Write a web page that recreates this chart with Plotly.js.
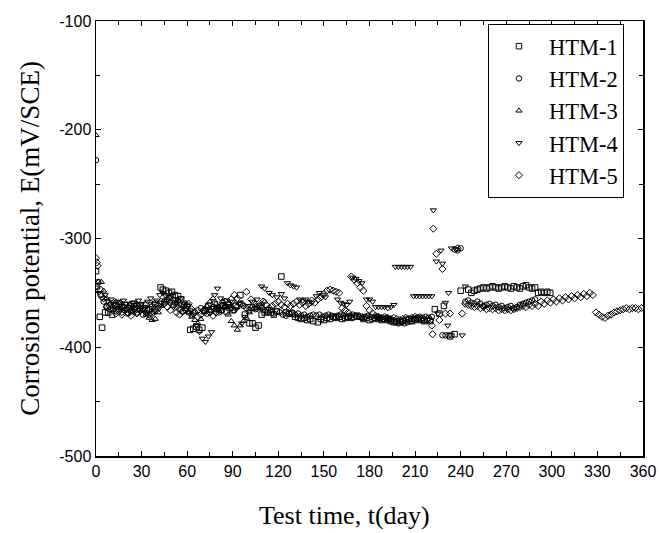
<!DOCTYPE html>
<html><head><meta charset="utf-8">
<script src="https://cdn.plot.ly/plotly-3.0.1.min.js"></script>
<style>html,body{margin:0;padding:0;background:#fff}#chart{width:660px;height:533px}</style>
</head><body><div id="chart"></div>
<script>
// HTM-1 (squares)
const htm1Day = [0,0.7,2.5,4,6,8,10.5,13,15,17,19,21,23,25,27,29,31,33,35,37,39,42.5,44,46,48,50,52,54,56,58,60,62,64,66,68,70,72,74,76,78,80,82,84,86,88,90,92,95,98,101,103,105,107,109,111,113,115,117,119,122,125,127,129,131,133,135,137,139,141,143,146,148,150,152,154,156,158,160,162,164,166,168,170,172,174,176,178,180,182,184,186,188,190,192,194,196,198,200,202,204,206,208,210,212,214,216,218,220,223,226,229,233,236,240,245,247,249,251,253,255,257,259,261,263,265,267,269,271,273,275,277,279,281,283,285,287,289,291,293,295,297,299];
const htm1E = [-330,-344,-372,-382,-368,-368,-370,-362,-360,-363,-361,-364,-362,-360,-365,-362,-364,-361,-365,-363,-360,-345,-347,-348,-350,-349,-352,-353,-356,-360,-362,-384,-383,-381,-384,-382,-366,-362,-365,-360,-364,-366,-362,-367,-364,-366,-362,-352,-370,-378,-378,-382,-380,-370,-368,-366,-368,-370,-367,-335,-368,-369,-369,-372,-373,-374,-373,-375,-374,-376,-377,-374,-375,-373,-374,-372,-373,-372,-374,-373,-372,-373,-372,-371,-372,-374,-373,-375,-374,-373,-374,-375,-374,-375,-376,-377,-376,-377,-376,-375,-374,-376,-375,-374,-375,-376,-375,-376,-365,-369,-362,-390,-388,-348,-347,-350,-348,-347,-346,-345,-346,-345,-344,-345,-346,-345,-344,-345,-346,-344,-345,-346,-344,-343,-345,-346,-345,-350,-349,-350,-349,-350];
// HTM-2 (circles)
const htm2Day = [0,1.5,3,5,7,9,11,13,15,17,19,21,23,25,27,29,31,33,35,37,39,41,43,45,47,49,51,53,55,57,59,61,63,65,67,69,71,73,75,77,79,81,83,85,87,89,91,93,95,97,99,101,103,105,107,109,111,113,115,117,119,121,123,125,127,129,131,133,135,137,139,141,143,145,147,149,151,153,155,157,159,161,163,165,167,169,171,173,175,177,179,181,183,185,187,189,191,193,195,197,199,201,203,205,207,209,211,213,215,217,219,221,228,230,232,234,236,238,240,243,245,247,249,251,253,255,257,259,261,263,265,267,269,271,273,275,277,279,281,283,285,287,289];
const htm2E = [-228,-340,-352,-358,-362,-365,-364,-367,-365,-368,-366,-369,-367,-365,-368,-366,-370,-368,-366,-369,-367,-364,-360,-358,-357,-359,-361,-363,-365,-367,-366,-368,-370,-368,-366,-364,-367,-369,-366,-363,-365,-368,-366,-363,-361,-364,-366,-363,-360,-362,-364,-366,-363,-365,-362,-364,-366,-368,-366,-369,-367,-368,-370,-371,-369,-368,-370,-369,-371,-370,-372,-371,-370,-371,-370,-372,-371,-370,-371,-372,-371,-370,-371,-372,-371,-370,-371,-372,-373,-372,-371,-372,-373,-372,-373,-374,-373,-374,-375,-377,-378,-377,-378,-377,-376,-374,-373,-372,-373,-372,-373,-372,-389,-389,-389,-389,-310,-311,-309,-358,-357,-359,-360,-358,-360,-362,-361,-360,-362,-361,-363,-362,-364,-363,-362,-364,-363,-361,-360,-359,-358,-357,-356];
// HTM-3 (triangle-up)
const htm3Day = [0,1.5,3.5,5,7,9,11,13,15,17,19,21,23,25,27,29,31,33,35,37,39,41,43,45,47,49,51,53,55,57,59,61,63,65,67,69,71,73,75,77,79,81,83,85,87,89,91,93,95,97,99,101,103,105,107,109,111];
const htm3E = [-205,-340,-340,-348,-355,-360,-362,-358,-364,-360,-365,-362,-367,-364,-360,-363,-366,-370,-373,-375,-374,-368,-362,-357,-355,-358,-356,-360,-358,-362,-365,-368,-372,-375,-378,-374,-368,-362,-358,-355,-360,-363,-358,-362,-370,-376,-380,-384,-380,-376,-373,-368,-365,-362,-364,-360,-358];
// HTM-4 (triangle-down)
const htm4Day = [0,2,4,6,8,10,12,14,16,18,20,22,24,26,28,30,32,34,36,38,40,42,44,46,48,50,52,54,56,58,60,62,64,66,68,70,72,74,76,78,80,82,84,86,88,90,92,94,96,98,100,103,106,109,111,114,116,119,122,124,126,128,130,132,134,136,138,140,142,145,147,149,151,159,161,163,165,167,169,171,173,175,178,180,182,184,186,188,190,192,194,196,197,199,201,203,205,207,209,211,213,215,217,219,221,222,224,225,227,228,230,231.5,232,234,237,241,243];
const htm4E = [-345,-350,-355,-352,-358,-356,-360,-358,-362,-357,-360,-363,-359,-361,-357,-360,-363,-358,-355,-360,-357,-352,-350,-353,-355,-352,-356,-358,-355,-360,-362,-366,-370,-380,-386,-392,-395,-390,-386,-352,-346,-355,-360,-357,-362,-358,-365,-360,-378,-372,-362,-358,-356,-344,-346,-350,-352,-354,-351,-355,-341,-343,-344,-345,-356,-357,-356,-358,-359,-353,-350,-352,-354,-356,-359,-360,-361,-358,-336,-337,-339,-341,-356,-356,-358,-363,-363,-363,-363,-364,-363,-361,-326,-326,-326,-326,-326,-326,-353,-353,-353,-353,-353,-353,-353,-274,-321,-369,-311,-323,-359,-380,-350,-309,-310,-389,-344];
// HTM-5 (diamonds)
const htm5Day = [0,0.5,1,3,5,7,9,11,13,15,17,19,21,23,25,27,29,31,33,35,37,39,41,43,45,47,49,51,53,55,57,59,61,63,65,67,69,71,73,75,77,79,81,83,85,87,89,91,93,96,99,102,104,106,108,110,112,114,116,118,120,122,124,126,128,130,132,134,136,138,140,142,144,146,148,150,152,154,156,158,160,162,164,166,168,170,172,174,176,178,180,182,184,186,188,190,192,194,196,198,200,202,204,206,208,210,212,214,216,218,220,221,221.5,222,224,226,228,230,233,238,241,243,245,247,249,251,253,255,257,259,261,263,265,267,269,271,273,275,277,279,281,283,285,287,289,291,293,295,297,299,301,303,305,307,309,311,313,315,317,319,321,323,325,327,329,331,333,335,337,339,341,343,345,347,349,351,353,355,357,359];
const htm5E = [-318,-322,-325,-347,-355,-363,-362,-366,-369,-367,-370,-366,-368,-371,-367,-369,-366,-364,-368,-370,-367,-365,-362,-358,-360,-363,-366,-362,-368,-370,-367,-364,-360,-365,-368,-372,-370,-366,-363,-368,-371,-368,-365,-362,-358,-360,-356,-352,-355,-360,-349,-356,-360,-364,-362,-358,-361,-364,-362,-360,-358,-361,-363,-360,-362,-360,-358,-361,-359,-362,-360,-357,-359,-356,-354,-351,-348,-347,-348,-349,-350,-364,-366,-368,-335,-338,-341,-345,-348,-362,-366,-369,-371,-372,-373,-372,-373,-374,-373,-374,-375,-374,-373,-374,-373,-372,-373,-374,-375,-374,-375,-380,-388,-291,-314,-375,-328,-369,-369,-309,-369,-360,-361,-362,-363,-362,-364,-363,-365,-364,-365,-364,-366,-365,-366,-365,-366,-365,-364,-363,-362,-363,-361,-362,-360,-362,-358,-360,-357,-359,-356,-358,-355,-357,-354,-356,-353,-355,-352,-354,-351,-353,-350,-352,-368,-370,-372,-373,-371,-370,-368,-367,-366,-365,-364,-365,-364,-364,-365,-364];

const seriesNames = ['HTM-1','HTM-2','HTM-3','HTM-4','HTM-5'];
const symbols = ['square-open','circle-open','triangle-up-open','triangle-down-open','diamond-open'];
const days = [htm1Day, htm2Day, htm3Day, htm4Day, htm5Day];
const values = [htm1E, htm2E, htm3E, htm4E, htm5E];
const yTickVals = [-500,-400,-300,-200,-100];
const yTickText = ['-500','-400','-300','-200','-100'];
const xTitle = 'Test time, t(day)';
const yTitle = 'Corrosion potential, E(mV/SCE)';

const traces = seriesNames.map((n,i)=>({
  x: days[i], y: values[i], name: n, type:'scatter', mode:'markers',
  legendgroup: n,
  marker:{symbol:symbols[i], size:5.5, color:'#000', line:{color:'#000', width:1}}
}));

const serif = '"Liberation Serif", "Times New Roman", serif';
const sans = '"Liberation Sans", Arial, sans-serif';

const layout = {
  width:660, height:533,
  margin:{l:96, r:17, t:21, b:77},
  paper_bgcolor:'#fff', plot_bgcolor:'#fff',
  showlegend:true,
  legend:{x:0.7166, y:0.993, xanchor:'left', yanchor:'top', bordercolor:'#000', borderwidth:1,
          bgcolor:'#fff', font:{family:serif, size:22.5, color:'#000'}, itemwidth:50, tracegroupgap:0},
  xaxis:{range:[0,360], tick0:0, dtick:30, ticks:'inside', ticklen:5, tickwidth:1, tickcolor:'#000',
         showline:true, linecolor:'#000', linewidth:1.5, mirror:'ticks', showgrid:false, zeroline:false,
         minor:{dtick:15, ticks:'inside', ticklen:4, tickcolor:'#000', tickwidth:1},
         tickfont:{family:sans, size:16, color:'#000'}},
  yaxis:{range:[-500,-100], tickmode:'array', tickvals:yTickVals, ticktext:yTickText,
         ticks:'inside', ticklen:5, tickwidth:1, tickcolor:'#000',
         showline:true, linecolor:'#000', linewidth:1.5, mirror:'ticks', showgrid:false, zeroline:false,
         minor:{tickmode:'linear', tick0:-500, dtick:50, ticks:'inside', ticklen:4, tickcolor:'#000', tickwidth:1},
         tickfont:{family:sans, size:16, color:'#000'},
         title:{text:yTitle, font:{family:serif, size:27, color:'#000'}, standoff:12}},
  annotations:[{text:xTitle, xref:'paper', yref:'paper', x:0.455, y:-0.136, xanchor:'center', yanchor:'middle',
                showarrow:false, font:{family:serif, size:26, color:'#000'}}]
};
Plotly.newPlot('chart', traces, layout, {displayModeBar:false, staticPlot:true});
</script></body></html>
